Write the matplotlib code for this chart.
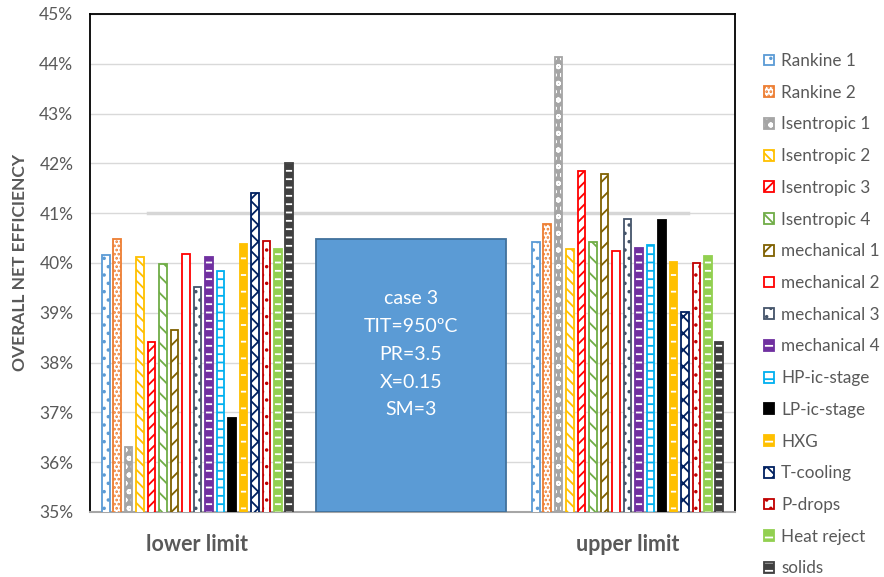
import matplotlib
matplotlib.use("Agg")
import matplotlib.pyplot as plt
import numpy as np
from matplotlib.patches import Patch, Rectangle
from matplotlib.legend_handler import HandlerTuple
from matplotlib.ticker import FuncFormatter

plt.rcParams['font.family'] = ['Lato', 'DejaVu Sans']
plt.rcParams['hatch.linewidth'] = 1.3

categories = ["lower limit", "", "upper limit"]
series = ["Rankine 1", "Rankine 2", "Isentropic 1", "Isentropic 2", "Isentropic 3",
          "Isentropic 4", "mechanical 1", "mechanical 2", "mechanical 3", "mechanical 4",
          "HP-ic-stage", "LP-ic-stage", "HXG", "T-cooling", "P-drops", "Heat reject", "solids"]
lower_limit = [40.16, 40.48, 36.31, 40.13, 38.41, 39.98, 38.65, 40.18, 39.52, 40.13,
               39.84, 36.88, 40.39, 41.41, 40.45, 40.29, 42.00]
upper_limit = [40.43, 40.78, 44.13, 40.29, 41.85, 40.43, 41.79, 40.25, 40.89, 40.31,
               40.37, 40.86, 40.03, 39.02, 39.99, 40.14, 38.42]
yticks = [35, 36, 37, 38, 39, 40, 41, 42, 43, 44, 45]
box_text = "case 3\nTIT=950ºC\nPR=3.5\nX=0.15\nSM=3"

# (face, hatch, hatch colour, outline colour)
styles = [
    ("white", "..", "#5B9BD5", "#5B9BD5"),
    ("white", "....", "#ED7D31", "#ED7D31"),
    ("#A5A5A5", "oo", "white", "#A5A5A5"),
    ("white", "\\\\\\", "#FFC000", "#FFC000"),
    ("white", "///", "#FF0000", "#FF0000"),
    ("white", "\\\\", "#70AD47", "#70AD47"),
    ("white", "//", "#7F6000", "#7F6000"),
    ("white", "", "#FF0000", "#FF0000"),
    ("white", "..", "#44546A", "#44546A"),
    ("#7030A0", "--", "white", "#7030A0"),
    ("white", "--", "#00B0F0", "#00B0F0"),
    ("black", "", "black", "black"),
    ("#FFC000", "-", "white", "#FFC000"),
    ("white", "xx", "#002060", "#002060"),
    ("white", "..", "#C00000", "#C00000"),
    ("#92D050", "--", "white", "#92D050"),
    ("#404040", "--", "white", "#404040"),
]

txt = "#595959"
fig = plt.figure(figsize=(8.84, 5.77), dpi=100)
ax = fig.add_axes([90/884, 1-512/577, (735-90)/884, (512-14)/577])

pitch = 0.0534
width = 0.036
n = len(series)
xcat = np.array([0, 2])
handles = []
for i in range(n):
    face, hatch, hcol, ecol = styles[i]
    xs = xcat + (i - (n - 1) / 2) * pitch
    vals = [lower_limit[i], upper_limit[i]]
    ax.bar(xs, vals, width, bottom=0, color=face, edgecolor=hcol, hatch=hatch,
           linewidth=0, zorder=3)
    ax.bar(xs, vals, width, fill=False, edgecolor=ecol, linewidth=1.3, zorder=4)
    handles.append((Patch(facecolor=face, edgecolor=hcol, hatch=hatch, linewidth=0),
                    Patch(fill=False, edgecolor=ecol, linewidth=1.3)))

ax.set_xlim(-0.5, 2.5)
ax.set_ylim(35, 45)
ax.set_yticks(yticks)
ax.yaxis.set_major_formatter(FuncFormatter(lambda v, p: f"{v:.0f}%"))
ax.tick_params(axis='y', length=0, pad=12, labelsize=12.5, labelcolor=txt)
ax.set_xticks([0, 2])
ax.set_xticklabels([categories[0], categories[2]], fontweight='bold', fontsize=15.5, color=txt)
ax.tick_params(axis='x', length=0, pad=16)
ax.grid(axis='y', color='#D9D9D9', linewidth=1.0, zorder=0)
ax.set_axisbelow(True)
# darker gridline segment visible in the original
ax.plot([-0.23, 2.28], [41, 41], color='#D6D6D6', linewidth=2.5, zorder=1)

for s in ['left', 'top', 'right']:
    ax.spines[s].set_color('black')
    ax.spines[s].set_linewidth(1.3)
ax.spines['bottom'].set_color('#A6A6A6')
ax.spines['bottom'].set_linewidth(1.5)

# text box
rect = Rectangle((0.551, 35), 1.433 - 0.551, 40.48 - 35, facecolor='#5B9BD5',
                 edgecolor='#41719C', linewidth=1.3, zorder=5)
ax.add_patch(rect)
ax.text(0.992, 38.17, box_text, ha='center', va='center', color='white',
        fontsize=14, linespacing=1.78, zorder=6)

fig.text(20/884, 1-262/577, "OVERALL NET EFFICIENCY", rotation=90, ha='center',
         va='center', fontweight='bold', fontsize=12.5, color=txt)

leg = fig.legend(handles, series, handler_map={tuple: HandlerTuple(ndivide=1)},
                 loc='upper left', bbox_to_anchor=(764/884, 1-53/577), frameon=False,
                 fontsize=12.3, handlelength=0.6, handleheight=0.6, handletextpad=0.4,
                 labelspacing=0.92, borderpad=0, borderaxespad=0)
for t in leg.get_texts():
    t.set_color(txt)

fig.savefig("out.png", dpi=100)
